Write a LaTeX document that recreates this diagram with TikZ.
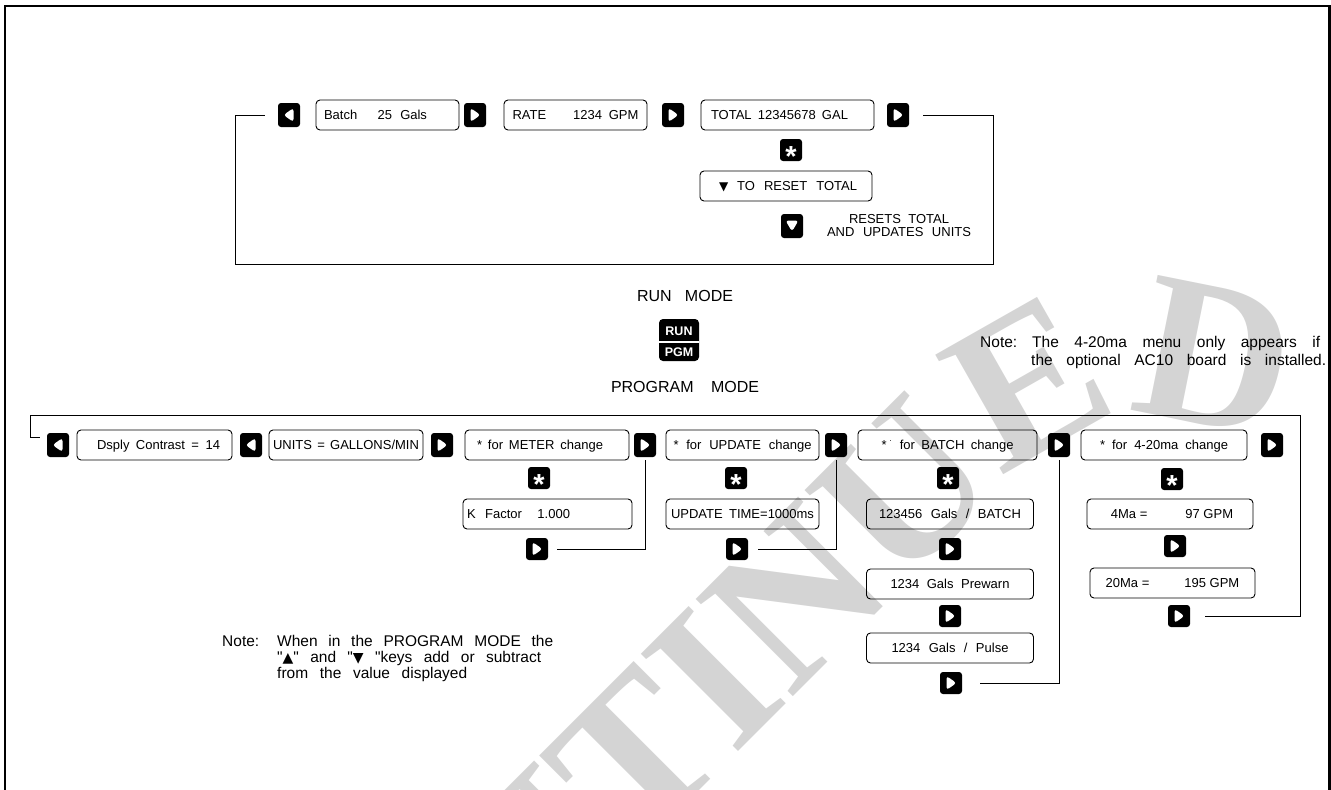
\documentclass[tikz,border=0pt]{standalone}
\usepackage{fontspec}
\setmainfont{Liberation Sans}
\newfontfamily\symfont{DejaVu Sans}
\newfontfamily\stampfont{Liberation Serif}
\usetikzlibrary{decorations.text}

\tikzset{
  lcd/.style={draw, rounded corners=4pt, line width=0.9pt, minimum height=30pt, inner sep=0pt,
    text height=9.4pt, text depth=0pt, font=\fontsize{13}{15}\selectfont},
  btn/.style={fill=black, rounded corners=3pt, minimum width=22pt, minimum height=24pt, inner sep=0pt},
  btnright/.style={btn, path picture={\fill[white] ([shift={(-4.5pt,7pt)}]path picture bounding box.center)
      -- ++(10pt,-7pt) -- ++(-10pt,-7pt) -- cycle;}},
  btnleft/.style={btn, path picture={\fill[white] ([shift={(4.5pt,7pt)}]path picture bounding box.center)
      -- ++(-10pt,-7pt) -- ++(10pt,-7pt) -- cycle;}},
  btndown/.style={btn, path picture={\fill[white] ([shift={(-6.5pt,5.5pt)}]path picture bounding box.center)
      -- ++(13pt,0pt) -- ++(-6.5pt,-11pt) -- cycle;}},
  btnstar/.style={btn, minimum height=22pt, text=white, font=\bfseries\fontsize{29}{29}\selectfont,
    text height=0pt, text depth=0pt},
  conn/.style={line width=0.9pt},
  modetext/.style={font=\fontsize{16}{18}\selectfont, inner sep=0pt},
  notetext/.style={font=\fontsize{15.5}{17}\selectfont, anchor=base west, inner sep=0pt},
}
\newcommand{\starkey}{\raisebox{-0.575em}{*}}
\newcommand{\tri}[1]{{\symfont\fontsize{12}{12}\selectfont #1}}

\begin{document}
\begin{tikzpicture}[x=1pt,y=-1pt]
  \useasboundingbox (0,0) rectangle (1331,790);

  % stamp
  \path[decorate, decoration={text along path, text align=right,
      text={|\stampfont\bfseries\fontsize{210}{210}\selectfont\color{black!17}|DISCONTINUED}}]
    (-100,1590) -- (1000,490) .. controls (1080,410) and (1150,400) .. (1275,445);

  \draw[line width=2.2pt] (5,790) -- (5,6) -- (1329.5,6) -- (1329.5,790);

  % run mode
  \node[btnleft] (run-left) at (289,115) {};
  \node[lcd, minimum width=143pt] (batchqty) at (387.5,115) {\makebox[103pt][s]{Batch\hspace{12pt} 25 Gals}\hspace*{24pt}};
  \node[btnright] (batchqty-right) at (475,115) {};
  \node[lcd, minimum width=143pt] (rate) at (575.5,115) {\makebox[126pt][s]{RATE\hspace{20pt} 1234 GPM}};
  \node[btnright] (rate-right) at (673,115) {};
  \node[lcd, minimum width=173pt] (total) at (787.5,115) {\makebox[137pt][s]{TOTAL 12345678 GAL}\hspace*{16pt}};
  \node[btnright] (total-right) at (898,115) {};
  \node[btnstar] (total-star) at (791,150) {\starkey};
  \node[lcd, minimum width=172pt] (reset) at (786,186) {\hspace*{4pt}\makebox[138pt][s]{\tri{▼} TO RESET TOTAL}};
  \node[btndown] (reset-down) at (792,226) {};
  \node[font=\fontsize{13}{13}\selectfont, align=center, inner sep=0pt] (resets) at (899,226)
    {\makebox[100pt][s]{RESETS TOTAL}\\\makebox[144pt][s]{AND UPDATES UNITS}};

  \coordinate (run-sw) at (235,264);
  \coordinate (run-se) at (993,264);
  \draw[conn, shorten <=13pt, shorten >=14pt] (run-left.west) -| (run-sw) -- (run-se) |- (total-right.east);

  \node[modetext] (runmode) at (685,296) {\makebox[96pt][s]{RUN MODE}};
  \node[btn, minimum width=40pt, minimum height=42pt, rounded corners=4pt] (modekey) at (679,340) {};
  \draw[white, line width=1.3pt] ([yshift=-2pt]modekey.west) -- ([yshift=-2pt]modekey.east);
  \node[text=white, font=\bfseries\fontsize{12.5}{12}\selectfont, inner sep=0pt] (modekey-run) at ([yshift=8.5pt]modekey.center) {RUN};
  \node[text=white, font=\bfseries\fontsize{12.5}{12}\selectfont, inner sep=0pt] (modekey-pgm) at ([yshift=-12.5pt]modekey.center) {PGM};
  \node[modetext] (pgmmode) at (685,387) {\makebox[148pt][s]{PROGRAM MODE}};

  \node[notetext] (note-ma) at (980,347) {Note:};
  \node[notetext] (note-ma-1) at (1032,347) {\makebox[288pt][s]{The 4-20ma menu only appears if}};
  \node[notetext] (note-ma-2) at (1031,365) {\makebox[295pt][s]{the optional AC10 board is installed.}};

  % program mode
  \node[btnleft] (pgm-left) at (58,445) {};
  \node[lcd, minimum width=155pt] (contrast) at (154.5,445) {\hspace*{8pt}\makebox[123pt][s]{Dsply Contrast = 14}};
  \node[btnleft] (units-left) at (251,445) {};
  \node[lcd, minimum width=154pt] (units) at (346,445) {\makebox[146pt][s]{UNITS = GALLONS/MIN}};
  \node[btnright] (units-right) at (442,445) {};
  \node[lcd, minimum width=164pt] (meter) at (547,445) {\makebox[126pt][s]{* for METER change}\hspace*{14pt}};
  \node[btnright] (meter-right) at (645,445) {};
  \node[lcd, minimum width=153pt] (update) at (742.5,445) {\makebox[138pt][s]{* for UPDATE change}};
  \node[btnright] (update-right) at (836,445) {};
  \node[lcd, minimum width=179pt] (batchset) at (947.5,445)
    {\makebox[132pt][s]{*\hspace{3pt}\raisebox{8pt}{\fontsize{8}{8}\selectfont .}\hspace{8pt}for BATCH change}};
  \node[btnright] (batchset-right) at (1059,445) {};
  \node[lcd, minimum width=166pt] (maset) at (1164,445) {\makebox[128pt][s]{* for 4-20ma change}};
  \node[btnright] (maset-right) at (1272,445) {};

  % meter column
  \node[btnstar] (meter-star) at (539,478) {\starkey};
  \node[lcd, minimum width=169pt] (kfactor) at (547.5,514) {\makebox[103pt][s]{K Factor\hspace{6pt} 1.000}\hspace*{58pt}};
  \node[btnright, minimum height=22pt] (kfactor-next) at (537,549) {};
  \draw[conn, shorten <=9pt, shorten >=3pt] (kfactor-next.east) -| (meter-right.south);

  % update column
  \node[btnstar] (update-star) at (736,478) {\starkey};
  \node[lcd, minimum width=153pt] (uptime) at (742.5,514) {\makebox[143pt][s]{UPDATE TIME=1000ms}};
  \node[btnright, minimum height=22pt] (uptime-next) at (737,549) {};
  \draw[conn, shorten <=10pt, shorten >=3pt] (uptime-next.east) -| (update-right.south);

  % batch column
  \node[btnstar] (batchset-star) at (948,478) {\starkey};
  \node[lcd, minimum width=167pt] (perbatch) at (950,514) {\makebox[142pt][s]{123456 Gals / BATCH}};
  \node[btnright, minimum height=22pt] (perbatch-next) at (950,549) {};
  \node[lcd, minimum width=167pt] (prewarn) at (950,584) {\makebox[119pt][s]{1234 Gals Prewarn}};
  \node[btnright, minimum height=22pt] (prewarn-next) at (950,616) {};
  \node[lcd, minimum width=167pt] (pulse) at (950,648) {\makebox[117pt][s]{1234 Gals / Pulse}};
  \node[btnright, minimum height=22pt] (pulse-next) at (951,683) {};
  \draw[conn, shorten <=18pt, shorten >=3pt] (pulse-next.east) -| (batchset-right.south);

  % 4-20ma column
  \node[btnstar] (maset-star) at (1172,479) {\starkey};
  \node[lcd, minimum width=166pt] (ma4) at (1170,514) {\hspace*{4pt}4Ma =\hspace*{38pt}97 GPM};
  \node[btnright, minimum height=22pt] (ma4-next) at (1175,546) {};
  \node[lcd, minimum width=165pt] (ma20) at (1172.5,583) {20Ma =\hspace*{35pt}195 GPM};
  \node[btnright, minimum height=22pt] (ma20-next) at (1179,616) {};

  \coordinate (pgm-nw) at (30,415);
  \coordinate (pgm-ne) at (1300,415);
  \draw[conn, shorten <=7pt, shorten >=15pt] ([yshift=8pt]pgm-left.west) -| (pgm-nw) -- (pgm-ne) |- (ma20-next.east);

  \node[notetext] (note-pgm) at (222,646) {Note:};
  \node[notetext] (note-pgm-1) at (277,646) {\makebox[276pt][s]{When in the PROGRAM MODE the}};
  \node[notetext] (note-pgm-2) at (277,662) {\makebox[264pt][s]{\textquotedbl{\symfont\fontsize{14}{14}\selectfont ▲}\textquotedbl{} and \textquotedbl{\symfont\fontsize{14}{14}\selectfont ▼} \textquotedbl keys add or subtract}};
  \node[notetext] (note-pgm-3) at (277,678) {\makebox[190pt][s]{from the value displayed}};
\end{tikzpicture}
\end{document}
